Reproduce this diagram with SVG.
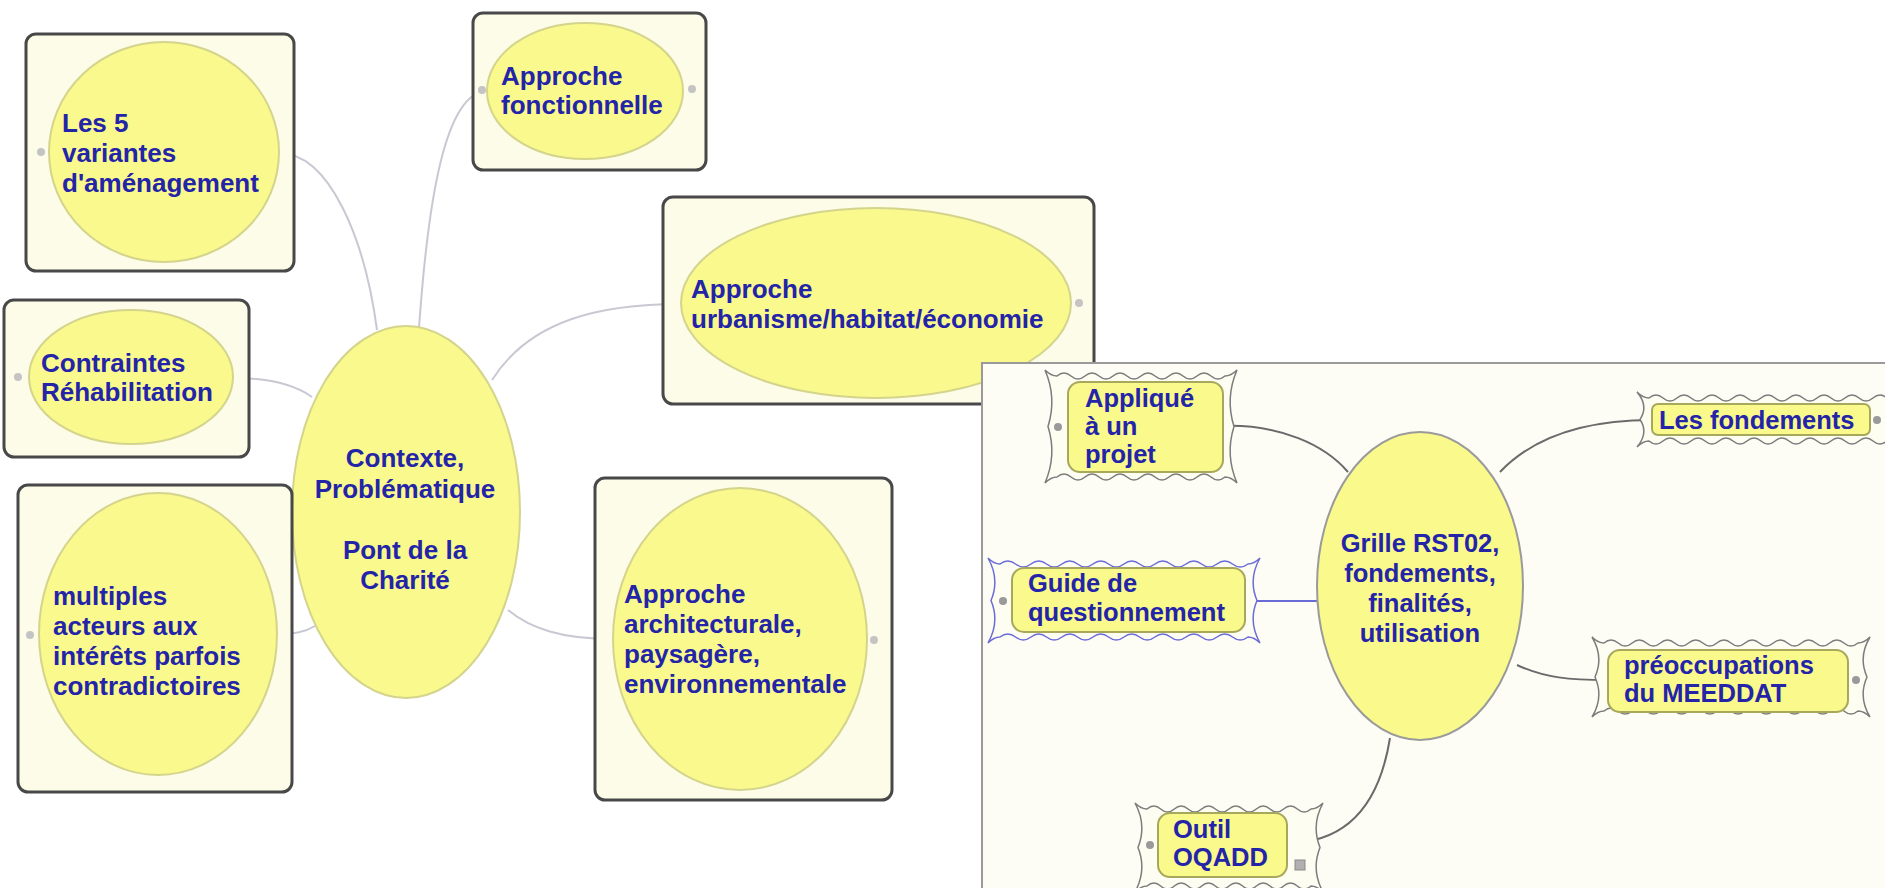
<svg xmlns="http://www.w3.org/2000/svg" width="1885" height="888" viewBox="0 0 1885 888">
<defs>
<style>
.box{fill:#fcfce8;stroke:#484848;stroke-width:3}
.ell{fill:#f9f98e;stroke:#d4d48c;stroke-width:2}
.t{font-family:"Liberation Sans",Arial,sans-serif;font-weight:bold;font-size:26px;fill:#2424a8}
.tr{font-family:"Liberation Sans",Arial,sans-serif;font-weight:bold;font-size:25.5px;fill:#2424a8}
.c{text-anchor:middle}
.conL{fill:none;stroke:#c8c8d2;stroke-width:2}
.conR{fill:none;stroke:#6a6a6a;stroke-width:2}
.conB{fill:none;stroke:#6b6bd8;stroke-width:2}
.dotL{fill:#c4c4c4}
.dotR{fill:#9a9a9a}
.frame{fill:#fdfdf2;stroke:#7c7c7c;stroke-width:1.5}
.frameB{fill:#fdfdf2;stroke:#6c6cd8;stroke-width:1.5}
.inner{fill:#f9f98c;stroke:#a8a85c;stroke-width:2}
.panel{fill:#fdfdf6;stroke:#9a9a9a;stroke-width:2}
</style>
</defs>
<rect x="0" y="0" width="1885" height="888" fill="#ffffff"/>

<g id="connectors-left">
<path class="conL" d="M279,153 C330,153 365,240 377,330"/>
<path class="conL" d="M419,328 C428,200 445,92 487,91"/>
<path class="conL" d="M492,380 C530,320 600,304 681,304"/>
<path class="conL" d="M233,378 C270,378 295,385 312,397"/>
<path class="conL" d="M277,634 C295,634 305,632 315,626"/>
<path class="conL" d="M508,610 C530,628 560,639 613,639"/>
</g>

<g id="node-les5">
<rect class="box" x="26" y="34" width="268" height="237" rx="10"/>
<ellipse class="ell" cx="164" cy="152" rx="115" ry="110"/>
<circle class="dotL" cx="41" cy="152" r="4"/>
<text class="t"><tspan x="62" y="132">Les 5</tspan><tspan x="62" y="162">variantes</tspan><tspan x="62" y="192">d'aménagement</tspan></text>
</g>

<g id="node-fonctionnelle">
<rect class="box" x="473" y="13" width="233" height="157" rx="10"/>
<ellipse class="ell" cx="585" cy="91" rx="98" ry="68"/>
<circle class="dotL" cx="482" cy="90" r="4"/>
<circle class="dotL" cx="692" cy="89" r="4"/>
<text class="t"><tspan x="501" y="85">Approche</tspan><tspan x="501" y="114">fonctionnelle</tspan></text>
</g>

<g id="node-urbanisme">
<rect class="box" x="663" y="197" width="431" height="207" rx="10"/>
<ellipse class="ell" cx="876" cy="303" rx="195" ry="95"/>
<circle class="dotL" cx="1079" cy="303" r="4"/>
<text class="t"><tspan x="691" y="298">Approche</tspan><tspan x="691" y="328">urbanisme/habitat/économie</tspan></text>
</g>

<g id="node-contraintes">
<rect class="box" x="4" y="300" width="245" height="157" rx="10"/>
<ellipse class="ell" cx="131" cy="377" rx="102" ry="67"/>
<circle class="dotL" cx="18" cy="377" r="4"/>
<text class="t"><tspan x="41" y="372">Contraintes</tspan><tspan x="41" y="401">Réhabilitation</tspan></text>
</g>

<g id="node-contexte">
<ellipse class="ell" cx="406" cy="512" rx="114" ry="186"/>
<text class="t c"><tspan x="405" y="467">Contexte,</tspan><tspan x="405" y="498">Problématique</tspan><tspan x="405" y="559">Pont de la</tspan><tspan x="405" y="589">Charité</tspan></text>
</g>

<g id="node-multiples">
<rect class="box" x="18" y="485" width="274" height="307" rx="10"/>
<ellipse class="ell" cx="158" cy="634" rx="119" ry="141"/>
<circle class="dotL" cx="30" cy="635" r="4"/>
<text class="t"><tspan x="53" y="605">multiples</tspan><tspan x="53" y="635">acteurs aux</tspan><tspan x="53" y="665">intérêts parfois</tspan><tspan x="53" y="695">contradictoires</tspan></text>
</g>

<g id="node-architecturale">
<rect class="box" x="595" y="478" width="297" height="322" rx="10"/>
<ellipse class="ell" cx="740" cy="639" rx="127" ry="151"/>
<circle class="dotL" cx="874" cy="640" r="4"/>
<text class="t"><tspan x="624" y="603">Approche</tspan><tspan x="624" y="633">architecturale,</tspan><tspan x="624" y="663">paysagère,</tspan><tspan x="624" y="693">environnementale</tspan></text>
</g>

<rect id="panel" class="panel" x="982" y="363" width="912" height="540"/>

<g id="connectors-right">
<path class="conR" d="M1223,426 C1280,424 1325,445 1348,472"/>
<path class="conB" d="M1245,601 L1317,601"/>
<path class="conR" d="M1500,472 C1540,430 1600,420 1652,420"/>
<path class="conR" d="M1517,665 C1545,678 1570,680 1608,680"/>
<path class="conR" d="M1390,738 C1380,800 1350,843 1287,843"/>
</g>

<g id="node-grille">
<ellipse cx="1420" cy="586" rx="103" ry="154" fill="#f9f98c" stroke="#9a9a9a" stroke-width="2"/>
<text class="tr c"><tspan x="1420" y="552">Grille RST02,</tspan><tspan x="1420" y="582">fondements,</tspan><tspan x="1420" y="612">finalités,</tspan><tspan x="1420" y="642">utilisation</tspan></text>
</g>

<g id="node-applique">
<path class="frame" d="M1045,370 Q1051,376 1057,376 q7,-6 14,0 t14,0 t14,0 t14,0 t14,0 t14,0 t14,0 t14,0 t14,0 t14,0 t14,0 t14,0 Q1231,376 1237,370 Q1225,398 1234,426.5 Q1225,455 1237,483 Q1231,477 1225,477 q-7,6 -14,0 t-14,0 t-14,0 t-14,0 t-14,0 t-14,0 t-14,0 t-14,0 t-14,0 t-14,0 t-14,0 t-14,0 Q1051,477 1045,483 Q1057,455 1048,426.5 Q1057,398 1045,370 Z"/>
<rect class="inner" x="1068" y="382" width="155" height="90" rx="12"/>
<circle class="dotR" cx="1058" cy="427" r="4"/>
<text class="tr"><tspan x="1085" y="407">Appliqué</tspan><tspan x="1085" y="435">à un</tspan><tspan x="1085" y="463">projet</tspan></text>
</g>

<g id="node-guide">
<path class="frameB" d="M988,558 Q994,564 1000,564 q7.75,-6 15.5,0 t15.5,0 t15.5,0 t15.5,0 t15.5,0 t15.5,0 t15.5,0 t15.5,0 t15.5,0 t15.5,0 t15.5,0 t15.5,0 t15.5,0 t15.5,0 t15.5,0 t15.5,0 Q1254,564 1260,558 Q1248,579 1257,600.5 Q1248,622 1260,643 Q1254,637 1248,637 q-7.75,6 -15.5,0 t-15.5,0 t-15.5,0 t-15.5,0 t-15.5,0 t-15.5,0 t-15.5,0 t-15.5,0 t-15.5,0 t-15.5,0 t-15.5,0 t-15.5,0 t-15.5,0 t-15.5,0 t-15.5,0 t-15.5,0 Q994,637 988,643 Q1000,622 991,600.5 Q1000,579 988,558 Z"/>
<rect class="inner" x="1012" y="568" width="233" height="64" rx="12"/>
<circle class="dotR" cx="1003" cy="601" r="4"/>
<text class="tr"><tspan x="1028" y="592">Guide de</tspan><tspan x="1028" y="621">questionnement</tspan></text>
</g>

<g id="node-fondements">
<path class="frame" d="M1637,392 Q1643,398 1649,398 q7,-6 14,0 t14,0 t14,0 t14,0 t14,0 t14,0 t14,0 t14,0 t14,0 t14,0 t14,0 t14,0 t14,0 t14,0 t14,0 t14,0 t14,0 Q1893,398 1899,392 Q1887,406 1896,419.5 Q1887,433 1899,447 Q1893,441 1887,441 q-7,6 -14,0 t-14,0 t-14,0 t-14,0 t-14,0 t-14,0 t-14,0 t-14,0 t-14,0 t-14,0 t-14,0 t-14,0 t-14,0 t-14,0 t-14,0 t-14,0 t-14,0 Q1643,441 1637,447 Q1649,433 1640,419.5 Q1649,406 1637,392 Z"/>
<rect class="inner" x="1652" y="404" width="218" height="31" rx="6"/>
<circle class="dotR" cx="1877" cy="420" r="4"/>
<text class="tr"><tspan x="1659" y="429">Les fondements</tspan></text>
</g>

<g id="node-preoccupations">
<path class="frame" d="M1592,637 Q1598,643 1604,643 q7.055,-6 14.11,0 t14.11,0 t14.11,0 t14.11,0 t14.11,0 t14.11,0 t14.11,0 t14.11,0 t14.11,0 t14.11,0 t14.11,0 t14.11,0 t14.11,0 t14.11,0 t14.11,0 t14.11,0 t14.11,0 t14.11,0 Q1864,643 1870,637 Q1858,657 1867,677 Q1858,697 1870,717 Q1864,711 1858,711 q-7.055,6 -14.11,0 t-14.11,0 t-14.11,0 t-14.11,0 t-14.11,0 t-14.11,0 t-14.11,0 t-14.11,0 t-14.11,0 t-14.11,0 t-14.11,0 t-14.11,0 t-14.11,0 t-14.11,0 t-14.11,0 t-14.11,0 t-14.11,0 t-14.11,0 Q1598,711 1592,717 Q1604,697 1595,677 Q1604,657 1592,637 Z"/>
<rect class="inner" x="1608" y="650" width="240" height="62" rx="12"/>
<circle class="dotR" cx="1856" cy="680" r="4"/>
<text class="tr"><tspan x="1624" y="674">préoccupations</tspan><tspan x="1624" y="702">du MEEDDAT</tspan></text>
</g>

<g id="node-outil">
<path class="frame" d="M1135,803 Q1141,809 1147,809 q6.833,-6 13.667,0 t13.667,0 t13.667,0 t13.667,0 t13.667,0 t13.667,0 t13.667,0 t13.667,0 t13.667,0 t13.667,0 t13.667,0 t13.667,0 Q1317,809 1323,803 Q1311,825 1320,847.5 Q1311,870 1323,892 Q1317,886 1311,886 q-6.833,6 -13.667,0 t-13.667,0 t-13.667,0 t-13.667,0 t-13.667,0 t-13.667,0 t-13.667,0 t-13.667,0 t-13.667,0 t-13.667,0 t-13.667,0 t-13.667,0 Q1141,886 1135,892 Q1147,870 1138,847.5 Q1147,825 1135,803 Z"/>
<rect class="inner" x="1158" y="813" width="129" height="64" rx="12"/>
<circle class="dotR" cx="1150" cy="845" r="4"/>
<rect x="1295" y="860" width="10" height="10" fill="#b0b0b0" stroke="#8a8a8a" stroke-width="1"/>
<text class="tr"><tspan x="1173" y="838">Outil</tspan><tspan x="1173" y="866">OQADD</tspan></text>
</g>
</svg>
